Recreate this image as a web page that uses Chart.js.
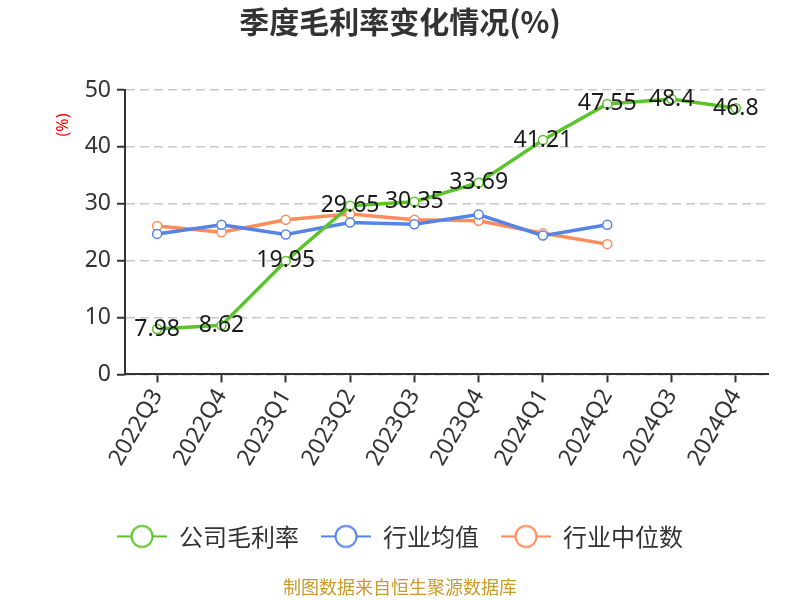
<!DOCTYPE html>
<html>
<head>
<meta charset="utf-8">
<script src="https://cdn.jsdelivr.net/npm/chart.js@4.4.0/dist/chart.umd.min.js"></script>
<style>
  body { margin: 0; background: #fff; }
  #wrap { width: 800px; height: 600px; }
</style>
</head>
<body>
<div id="wrap"><canvas id="myChart" width="800" height="600"></canvas></div>
<script>
// quarters on the x axis
let quarters = ['2022Q3', '2022Q4', '2023Q1', '2023Q2', '2023Q3', '2023Q4', '2024Q1', '2024Q2', '2024Q3', '2024Q4'];
// company gross margin (%)
let companyMargin = [7.98, 8.62, 19.95, 29.65, 30.35, 33.69, 41.21, 47.55, 48.4, 46.8];
// industry average (%) - no data for the last two quarters
let industryAvg = [24.7, 26.3, 24.6, 26.7, 26.4, 28.1, 24.4, 26.3, null, null];
// industry median (%)
let industryMedian = [26.1, 25.0, 27.2, 28.2, 27.2, 27.0, 24.8, 22.9, null, null];
let yTicks = [0, 10, 20, 30, 40, 50];

let seriesNames = ['公司毛利率', '行业均值', '行业中位数'];
let seriesColors = ['#5cc42b', '#5584e6', '#ff8c5a'];

// small picture for the legend: a line with a hollow circle in the middle
function legendIcon(color) {
  let c = document.createElement('canvas');
  c.width = 50;
  c.height = 26;
  let g = c.getContext('2d');
  g.strokeStyle = color;
  g.lineWidth = 2;
  g.beginPath();
  g.moveTo(0, 13);
  g.lineTo(50, 13);
  g.stroke();
  g.beginPath();
  g.arc(25, 13, 10.5, 0, Math.PI * 2);
  g.fillStyle = '#fff';
  g.fill();
  g.stroke();
  return c;
}

function makeDataset(i, values) {
  return {
    label: seriesNames[i],
    data: values,
    borderColor: seriesColors[i],
    backgroundColor: '#fff',
    borderWidth: 3.5,
    pointRadius: 4.5,
    pointBorderWidth: 1.5,
    pointBackgroundColor: '#fff',
    pointBorderColor: seriesColors[i],
    tension: 0,
    spanGaps: false
  };
}

// labels on the company series + the little red "(%)" near the y axis
const extraText = {
  id: 'extraText',
  afterDatasetsDraw(chart) {
    let ctx = chart.ctx;
    let meta = chart.getDatasetMeta(0);
    ctx.save();
    ctx.font = '23px "Noto Sans", "DejaVu Sans", sans-serif';
    ctx.fillStyle = '#1a1a1a';
    ctx.textAlign = 'center';
    ctx.textBaseline = 'middle';
    for (let i = 0; i < meta.data.length; i++) {
      let pt = meta.data[i];
      ctx.fillText(String(companyMargin[i]), pt.x, pt.y);
    }
    ctx.restore();

    ctx.save();
    ctx.translate(63, chart.chartArea.top + 35);
    ctx.rotate(-Math.PI / 2);
    ctx.font = '16px "Noto Sans", sans-serif';
    ctx.fillStyle = '#ff0000';
    ctx.textAlign = 'center';
    ctx.textBaseline = 'middle';
    ctx.fillText('(%)', 0, 0);
    ctx.restore();
  }
};

let canvasChart = document.getElementById('myChart');
let chart = new Chart(canvasChart, {
  type: 'line',
  data: {
    labels: quarters,
    datasets: [
      makeDataset(0, companyMargin),
      makeDataset(1, industryAvg),
      makeDataset(2, industryMedian)
    ]
  },
  options: {
    responsive: false,
    animation: false,
    layout: { padding: { left: 0, right: 0, top: 0, bottom: 1 } },
    scales: {
      x: {
        offset: true,
        grid: {
          drawOnChartArea: false,
          drawTicks: true,
          tickLength: 8,
          tickColor: '#333',
          tickWidth: 2
        },
        border: { display: true, color: '#333', width: 2 },
        ticks: {
          color: '#333',
          font: { size: 23, family: '"Noto Sans", sans-serif' },
          minRotation: 60,
          maxRotation: 60,
          padding: 2
        },
        afterFit(scale) { scale.height = 128; }
      },
      y: {
        min: 0,
        max: 50,
        afterBuildTicks(scale) {
          scale.ticks = yTicks.map(v => ({ value: v }));
        },
        grid: {
          color: '#c8c8c8',
          lineWidth: 1.5,
          tickLength: 8,
          tickColor: '#333',
          tickWidth: 2,
          tickBorderDash: []
        },
        border: { display: true, color: '#333', width: 2, dash: [9, 5] },
        ticks: {
          color: '#333',
          font: { size: 23, family: '"Noto Sans", sans-serif' },
          padding: 6
        },
        afterFit(scale) { scale.width = 125; }
      },
      // empty axis on the right, only keeps a margin there
      yRight: {
        position: 'right',
        min: 0,
        max: 50,
        grid: { display: false },
        border: { display: false },
        ticks: { display: false },
        afterFit(scale) { scale.width = 32; }
      }
    },
    plugins: {
      title: {
        display: true,
        text: '季度毛利率变化情况(%)',
        color: '#333',
        font: { size: 30, weight: 'bold', family: '"Noto Sans CJK SC", "Noto Sans", sans-serif' },
        padding: { top: 4, bottom: 50 }
      },
      subtitle: {
        display: true,
        position: 'bottom',
        text: '制图数据来自恒生聚源数据库',
        color: '#c99a2e',
        font: { size: 18, family: '"Noto Sans CJK SC", sans-serif' },
        padding: { top: 18, bottom: 1 }
      },
      legend: {
        position: 'bottom',
        labels: {
          usePointStyle: true,
          pointStyleWidth: 50,
          boxHeight: 26,
          padding: 22,
          color: '#333',
          font: { size: 24, family: '"Noto Sans CJK SC", sans-serif' },
          generateLabels(ch) {
            let items = Chart.defaults.plugins.legend.labels.generateLabels(ch);
            items.forEach((it, i) => { it.pointStyle = legendIcon(seriesColors[i]); });
            return items;
          }
        }
      },
      tooltip: { enabled: false }
    }
  },
  plugins: [extraText]
});
</script>
</body>
</html>
